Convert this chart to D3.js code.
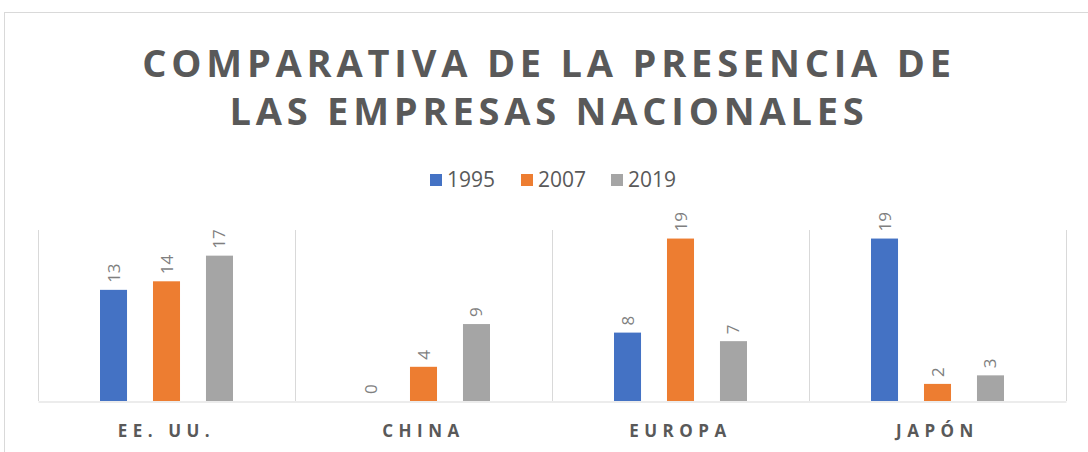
<!DOCTYPE html>
<html>
<head>
<meta charset="utf-8">
<script src="https://cdn.jsdelivr.net/npm/d3@7"></script>
<style>
  body { margin: 0; background: #fff; }
  svg { display: block; }
</style>
</head>
<body>
<div id="viz"></div>
<script>
var categories = ["EE. UU.", "CHINA", "EUROPA", "JAPÓN"]
var years = ["1995", "2007", "2019"]
var values1995 = [13, 0, 8, 19]
var values2007 = [14, 4, 19, 2]
var values2019 = [17, 9, 7, 3]
var colors = ["#4472C4", "#ED7D31", "#A5A5A5"]
var titleLines = ["COMPARATIVA DE LA PRESENCIA DE", "LAS EMPRESAS NACIONALES"]

var width = 1088, height = 452
var margin = {top: 230, bottom: 51, left: 38, right: 22}

var series = [values1995, values2007, values2019]
var data = categories.map(function(c, i) {
  return {cat: c, vals: series.map(function(s, j) { return {year: years[j], value: s[i], k: j} })}
})

var svg = d3.select("#viz").append("svg")
  .attr("width", width)
  .attr("height", height)

// chart border
svg.append("rect")
  .attr("x", 4.5).attr("y", 12.5)
  .attr("width", 1200).attr("height", 600)
  .attr("fill", "none")
  .attr("stroke", "#d9d9d9")

// title
svg.append("g").selectAll("text")
  .data(titleLines)
  .enter()
  .append("text")
    .attr("x", 549)
    .attr("y", function(d, i) { return 77 + i * 48 })
    .attr("text-anchor", "middle")
    .style("font-family", "'Open Sans', sans-serif")
    .style("font-weight", "bold")
    .style("font-size", "38px")
    .style("letter-spacing", "4.8px")
    .attr("fill", "#595959")
    .text(function(d) { return d })

// scales
var xScale = d3.scaleBand()
  .domain(categories)
  .range([margin.left, width - margin.right])

var inner = d3.scaleBand()
  .domain(years)
  .range([62, 195])
  .paddingInner(0.49)

var yScale = d3.scaleLinear()
  .domain([0, 20])
  .range([height - margin.bottom, margin.top])

// grid lines at category boundaries
var bounds = categories.map(function(c) { return xScale(c) }).concat([width - margin.right])
svg.append("g").selectAll("line")
  .data(bounds)
  .enter()
  .append("line")
    .attr("x1", function(d) { return Math.round(d) + 0.5 })
    .attr("x2", function(d) { return Math.round(d) + 0.5 })
    .attr("y1", yScale(20))
    .attr("y2", yScale(0))
    .attr("stroke", "#d9d9d9")

// x axis
var x_axis = d3.axisBottom().scale(xScale).tickSize(0).tickPadding(23)
var gx = svg.append("g")
  .attr("transform", "translate(0," + (yScale(0) + 0.5) + ")")
  .call(x_axis)
gx.select(".domain").attr("stroke", "#d9d9d9")
gx.selectAll("text")
  .style("font-family", "'Open Sans', sans-serif")
  .style("font-weight", "bold")
  .style("font-size", "17px")
  .style("letter-spacing", "5.5px")
  .attr("fill", "#595959")

// bars
var groups = svg.append("g").selectAll("g")
  .data(data)
  .enter()
  .append("g")
    .attr("transform", function(d) { return "translate(" + xScale(d.cat) + ",0)" })

groups.selectAll("rect")
  .data(function(d) { return d.vals })
  .enter()
  .append("rect")
    .attr("x", function(d) { return inner(d.year) })
    .attr("y", function(d) { return yScale(d.value) })
    .attr("width", inner.bandwidth())
    .attr("height", function(d) { return yScale(0) - yScale(d.value) })
    .attr("fill", function(d) { return colors[d.k] })

// rotated data labels
groups.selectAll("text")
  .data(function(d) { return d.vals })
  .enter()
  .append("text")
    .attr("transform", function(d) {
      return "translate(" + (inner(d.year) + inner.bandwidth() / 2 + 6) + "," + (yScale(d.value) - 7) + ") rotate(-90)"
    })
    .style("font-family", "'Open Sans', sans-serif")
    .style("font-size", "17px")
    .attr("fill", "#7f7f7f")
    .text(function(d) { return d.value })

// legend
var legendX = [430, 521, 611]
var legend = svg.append("g").selectAll("g")
  .data(years)
  .enter()
  .append("g")
    .attr("transform", function(d, i) { return "translate(" + legendX[i] + ",174)" })
legend.append("rect")
  .attr("width", 12).attr("height", 12)
  .attr("fill", function(d, i) { return colors[i] })
legend.append("text")
  .attr("x", 17).attr("y", 13)
  .style("font-family", "'Open Sans', sans-serif")
  .style("font-size", "21px")
  .attr("fill", "#595959")
  .text(function(d) { return d })
</script>
</body>
</html>
